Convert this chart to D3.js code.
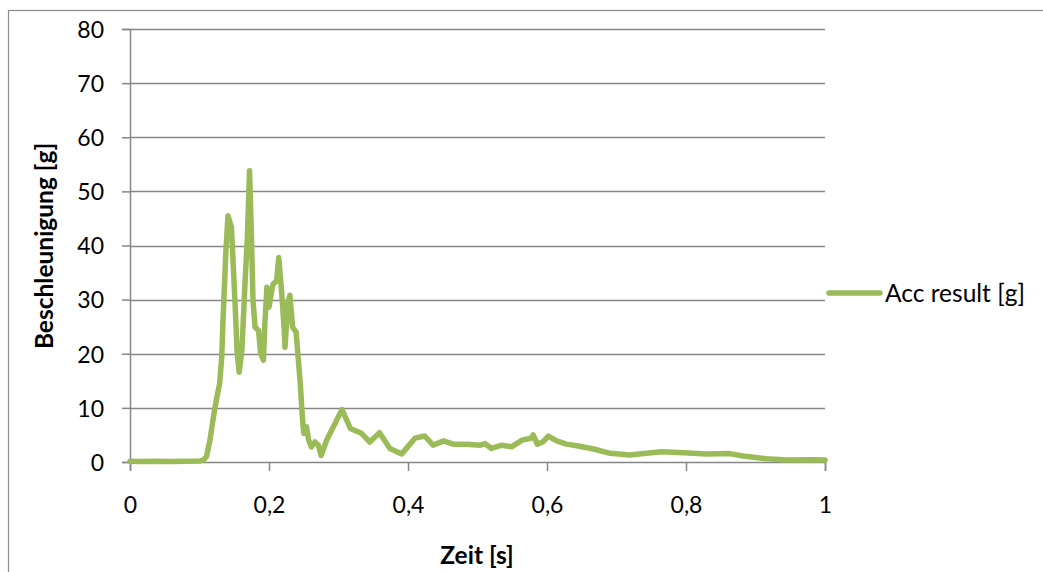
<!DOCTYPE html>
<html>
<head>
<meta charset="utf-8">
<script src="https://cdn.jsdelivr.net/npm/d3@7"></script>
<style>
  html, body { margin: 0; padding: 0; background: #fff; }
  svg { display: block; }
  text { font-family: Lato, "Open Sans", sans-serif; fill: #000; }
</style>
</head>
<body>
<svg id="chart" width="1043" height="572"></svg>
<script>
// Acceleration measurement over time
const timeS = [
  0.000, 0.014, 0.036, 0.058, 0.079, 0.101, 0.106, 0.110, 0.115, 0.120,
  0.125, 0.129, 0.132, 0.134, 0.138, 0.141, 0.146, 0.151, 0.154, 0.157,
  0.161, 0.165, 0.169, 0.172, 0.174, 0.177, 0.180, 0.185, 0.188, 0.192,
  0.194, 0.197, 0.200, 0.204, 0.206, 0.211, 0.214, 0.218, 0.222, 0.223,
  0.227, 0.230, 0.234, 0.239, 0.245, 0.248, 0.250, 0.254, 0.257, 0.261,
  0.266, 0.271, 0.275, 0.283, 0.295, 0.305, 0.317, 0.333, 0.345, 0.359,
  0.374, 0.391, 0.410, 0.424, 0.436, 0.451, 0.465, 0.484, 0.504, 0.511,
  0.520, 0.535, 0.549, 0.564, 0.577, 0.580, 0.586, 0.594, 0.602, 0.614,
  0.628, 0.643, 0.667, 0.691, 0.719, 0.743, 0.765, 0.796, 0.830, 0.863,
  0.882, 0.916, 0.945, 0.983, 1.000
];
const accG = [
  0.15, 0.10, 0.15, 0.10, 0.12, 0.20, 0.40, 1.0, 4.0, 8.3,
  12.0, 14.5, 19.4, 26.8, 39.0, 45.5, 43.3, 29.8, 20.6, 16.6,
  20.6, 31.7, 42.0, 53.8, 45.2, 29.8, 24.9, 24.3, 20.0, 18.8,
  25.5, 32.3, 28.6, 31.7, 32.9, 33.5, 37.8, 31.7, 24.3, 21.2,
  29.2, 30.8, 24.9, 24.0, 14.5, 8.3, 5.3, 6.5, 4.05, 2.8,
  3.7, 3.1, 1.2, 4.05, 7.1, 9.7, 6.2, 5.3, 3.7, 5.4,
  2.5, 1.5, 4.4, 4.8, 3.1, 3.9, 3.3, 3.3, 3.1, 3.4,
  2.5, 3.1, 2.8, 4.05, 4.4, 5.0, 3.3, 3.7, 4.8, 3.9,
  3.3, 3.0, 2.4, 1.6, 1.3, 1.6, 1.9, 1.7, 1.5, 1.55,
  1.1, 0.6, 0.35, 0.4, 0.35
];
const xTicks = [0, 0.2, 0.4, 0.6, 0.8, 1];
const xTickLabels = ["0", "0,2", "0,4", "0,6", "0,8", "1"];
const yTicks = [0, 10, 20, 30, 40, 50, 60, 70, 80];
const seriesName = "Acc result [g]";
const xTitle = "Zeit [s]";
const yTitle = "Beschleunigung [g]";

const lineColor = "#9bbb59";
const gridColor = "#868686";

const svg = d3.select("#chart");

// outer chart frame
svg.append("rect")
  .attr("x", 8.5).attr("y", 10.5)
  .attr("width", 1100).attr("height", 700)
  .attr("fill", "none").attr("stroke", "#8c8c8c").attr("stroke-width", 1.2);

const x = d3.scaleLinear().domain([0, 1]).range([130, 825]);
const y = d3.scaleLinear().domain([0, 80]).range([462, 29]);

// horizontal gridlines
svg.append("g")
  .selectAll("line")
  .data(yTicks.filter(v => v > 0))
  .join("line")
  .attr("x1", x(0)).attr("x2", x(1))
  .attr("y1", d => Math.round(y(d)) + 0.5).attr("y2", d => Math.round(y(d)) + 0.5)
  .attr("stroke", gridColor).attr("stroke-width", 1.5);

// y axis
const yAxis = svg.append("g")
  .attr("transform", `translate(${x(0)},0)`)
  .call(d3.axisLeft(y).tickValues(yTicks).tickSize(8).tickFormat(d3.format("d")));
yAxis.select(".domain").attr("stroke", gridColor).attr("stroke-width", 1.5);
yAxis.selectAll(".tick line").attr("stroke", gridColor).attr("stroke-width", 1.5);
yAxis.selectAll(".tick text")
  .attr("x", -26).attr("dy", "0.36em")
  .style("font-size", "23px").style("font-family", "Lato, sans-serif").attr("fill", "#000");

// x axis
const xAxis = svg.append("g")
  .attr("transform", `translate(0,${y(0)})`)
  .call(d3.axisBottom(x).tickValues(xTicks).tickSize(9)
    .tickFormat((d, i) => xTickLabels[i]));
xAxis.select(".domain").attr("stroke", gridColor).attr("stroke-width", 1.5);
xAxis.selectAll(".tick line").attr("stroke", gridColor).attr("stroke-width", 1.5);
xAxis.selectAll(".tick text")
  .attr("y", 51).attr("dy", 0)
  .style("font-size", "23px").style("font-family", "Lato, sans-serif").attr("fill", "#000");

// data series
const pts = timeS.map((t, i) => [t, accG[i]]);
const line = d3.line().x(d => x(d[0])).y(d => y(d[1]));
svg.append("path")
  .datum(pts)
  .attr("d", line)
  .attr("fill", "none")
  .attr("stroke", lineColor)
  .attr("stroke-width", 5.5)
  .attr("stroke-linejoin", "round")
  .attr("stroke-linecap", "round");

// legend
svg.append("line")
  .attr("x1", 829).attr("x2", 880).attr("y1", 293).attr("y2", 293)
  .attr("stroke", lineColor).attr("stroke-width", 5.5).attr("stroke-linecap", "round");
svg.append("text")
  .attr("x", 885).attr("y", 302)
  .style("font-size", "24.5px")
  .text(seriesName);

// axis titles
svg.append("text")
  .attr("x", 477).attr("y", 564)
  .attr("text-anchor", "middle")
  .style("font-size", "24.5px").style("font-weight", "bold")
  .text(xTitle);
svg.append("text")
  .attr("transform", "translate(53,246) rotate(-90)")
  .attr("text-anchor", "middle")
  .style("font-size", "24.5px").style("font-weight", "bold")
  .text(yTitle);
</script>
</body>
</html>
